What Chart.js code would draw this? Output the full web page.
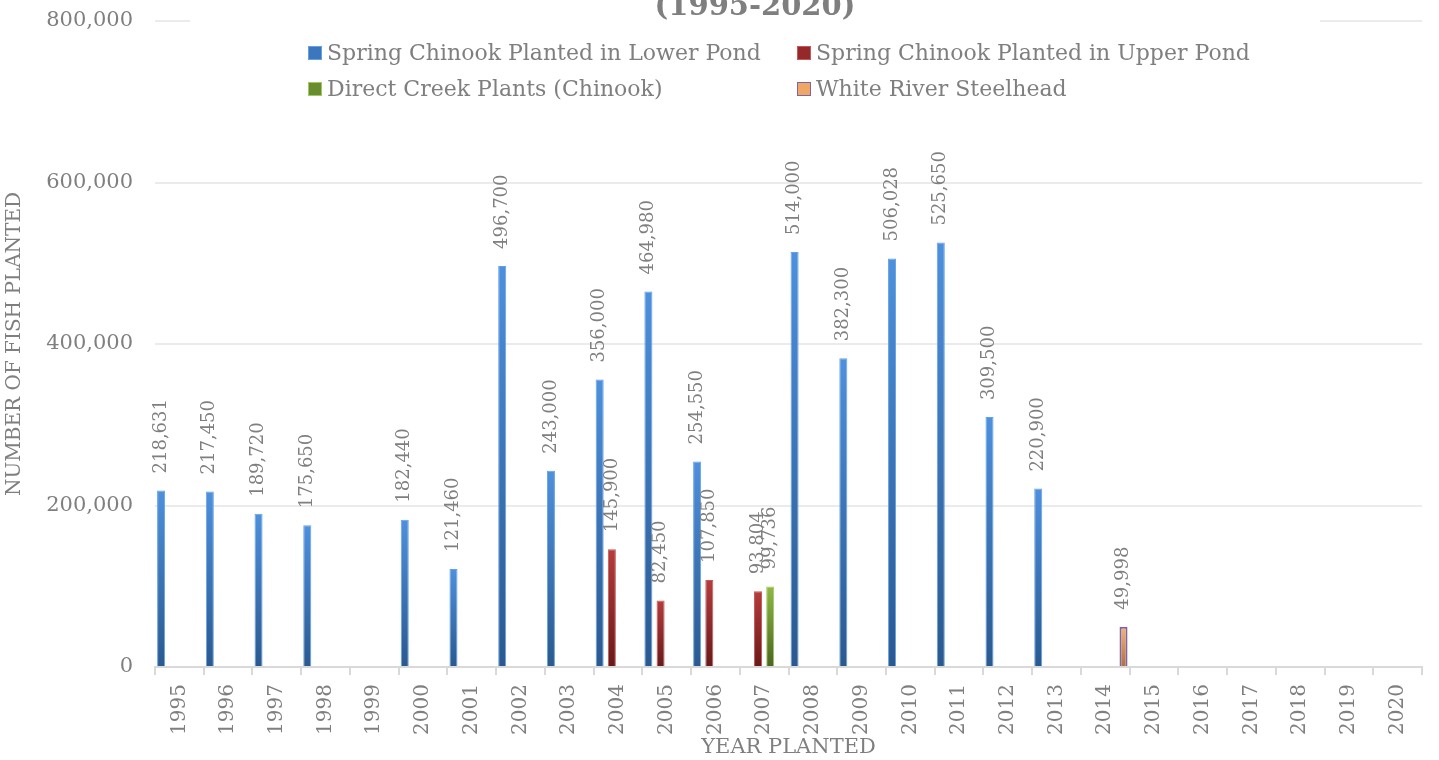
<!DOCTYPE html>
<html>
<head>
<meta charset="utf-8">
<script src="https://cdn.jsdelivr.net/npm/chart.js@4.4.1/dist/chart.umd.min.js"></script>
<style>
    html, body { margin: 0; padding: 0; background: #ffffff; }
    #wrap { width: 1439px; height: 760px; position: relative; }
</style>
</head>
<body>
<div id="wrap"><canvas id="fishChart" width="1439" height="760"></canvas></div>
<script>
// Chart data
const years = ['1995', '1996', '1997', '1998', '1999', '2000', '2001', '2002', '2003', '2004', '2005', '2006', '2007',
    '2008', '2009', '2010', '2011', '2012', '2013', '2014', '2015', '2016', '2017', '2018', '2019', '2020'];

const lowerPond = [218631, 217450, 189720, 175650, null, 182440, 121460, 496700, 243000, 356000, 464980, 254550, null,
    514000, 382300, 506028, 525650, 309500, 220900, null, null, null, null, null, null, null];

const upperPond = [null, null, null, null, null, null, null, null, null, 145900, 82450, 107850, 93804,
    null, null, null, null, null, null, null, null, null, null, null, null, null];

const creekPlants = [null, null, null, null, null, null, null, null, null, null, null, null, 99736,
    null, null, null, null, null, null, null, null, null, null, null, null, null];

const steelhead = [null, null, null, null, null, null, null, null, null, null, null, null, null,
    null, null, null, null, null, null, 49998, null, null, null, null, null, null];

const yTicks = [0, 200000, 400000, 600000, 800000];

const chartTitle = '(1995-2020)';
const serif = '"DejaVu Serif", "Liberation Serif", serif';
const textGray = '#7f7f7f';

// Per-bar vertical gradient: light at the top, dark at the base
function barGradient(top, bottom) {
    return function(context) {
        const chart = context.chart;
        const yScale = chart.scales && chart.scales.y;
        if (!yScale || context.raw == null) return top;
        const yTop = yScale.getPixelForValue(context.raw);
        const yBase = yScale.getPixelForValue(0);
        if (!isFinite(yTop) || !isFinite(yBase) || yTop === yBase) return top;
        const g = chart.ctx.createLinearGradient(0, yTop, 0, yBase);
        g.addColorStop(0, top);
        g.addColorStop(1, bottom);
        return g;
    };
}

const fmt = v => Number(v).toLocaleString('en-US');

// Rotated value labels above each bar
const valueLabels = {
    id: 'valueLabels',
    afterDatasetsDraw(chart) {
        const ctx = chart.ctx;
        ctx.save();
        ctx.font = '18px ' + serif;
        ctx.fillStyle = textGray;
        ctx.textAlign = 'left';
        ctx.textBaseline = 'middle';
        chart.data.datasets.forEach((ds, i) => {
            const meta = chart.getDatasetMeta(i);
            meta.data.forEach((bar, j) => {
                const v = ds.data[j];
                if (v == null) return;
                ctx.save();
                ctx.translate(bar.x, bar.y - 17);
                ctx.rotate(-Math.PI / 2);
                ctx.fillText(fmt(v), 0, 0);
                ctx.restore();
            });
        });
        ctx.restore();
    }
};

// Title (cut at the top edge) and two-row legend over a white box
const headerBlock = {
    id: 'headerBlock',
    afterDraw(chart) {
        const ctx = chart.ctx;
        ctx.save();
        ctx.fillStyle = '#ffffff';
        ctx.fillRect(190, 0, 1130, 104);

        ctx.fillStyle = textGray;
        ctx.font = 'bold 29px ' + serif;
        ctx.textAlign = 'center';
        ctx.textBaseline = 'alphabetic';
        ctx.fillText(chartTitle, 755, 15);

        const cols = [308, 797];
        const rows = [46, 82];
        ctx.font = '22px ' + serif;
        ctx.textAlign = 'left';
        ctx.textBaseline = 'middle';
        chart.data.datasets.forEach((ds, i) => {
            const x = cols[i % 2];
            const y = rows[Math.floor(i / 2)];
            ctx.fillStyle = ds.legendColor;
            ctx.fillRect(x, y, 14, 14);
            ctx.strokeStyle = ds.borderColor;
            ctx.lineWidth = 1;
            ctx.strokeRect(x + 0.5, y + 0.5, 13, 13);
            ctx.fillStyle = textGray;
            ctx.fillText(ds.label, x + 19, y + 8);
        });
        ctx.restore();
    }
};

document.addEventListener('DOMContentLoaded', function() {
    const ctx = document.getElementById('fishChart').getContext('2d');

    new Chart(ctx, {
        type: 'bar',
        data: {
            labels: years,
            datasets: [
                {
                    label: 'Spring Chinook Planted in Lower Pond',
                    data: lowerPond,
                    backgroundColor: barGradient('#4d90dd', '#2a598f'),
                    legendColor: '#3c76bd',
                    borderColor: '#64a0e4',
                    borderWidth: 1
                },
                {
                    label: 'Spring Chinook Planted in Upper Pond',
                    data: upperPond,
                    backgroundColor: barGradient('#b53c3c', '#661a1a'),
                    legendColor: '#952828',
                    borderColor: '#c85656',
                    borderWidth: 1
                },
                {
                    label: 'Direct Creek Plants (Chinook)',
                    data: creekPlants,
                    backgroundColor: barGradient('#8fb846', '#4a6620'),
                    legendColor: '#6a8c30',
                    borderColor: '#a2c862',
                    borderWidth: 1
                },
                {
                    label: 'White River Steelhead',
                    data: steelhead,
                    backgroundColor: barGradient('#f6b479', '#b0703c'),
                    legendColor: '#eea766',
                    borderColor: '#8064a2',
                    borderWidth: 2
                }
            ]
        },
        options: {
            responsive: false,
            animation: false,
            categoryPercentage: 1.0,
            barPercentage: 0.66,
            layout: {
                padding: { top: 21, right: 17, bottom: 0, left: 0 }
            },
            plugins: {
                legend: { display: false },
                title: { display: false },
                tooltip: { enabled: false }
            },
            scales: {
                x: {
                    afterFit: scale => { scale.height = 93; },
                    grid: {
                        offset: true,
                        drawOnChartArea: false,
                        drawTicks: true,
                        tickLength: 8,
                        color: '#d9d9d9',
                        lineWidth: 2
                    },
                    border: { display: true, color: '#d9d9d9', width: 2 },
                    ticks: {
                        minRotation: 90,
                        maxRotation: 90,
                        padding: 9,
                        autoSkip: false,
                        color: textGray,
                        font: { family: serif, size: 20 }
                    },
                    title: {
                        display: true,
                        text: 'YEAR PLANTED',
                        color: textGray,
                        padding: { top: 0, bottom: 0 },
                        font: { family: serif, size: 21 }
                    }
                },
                y: {
                    min: 0,
                    max: 800000,
                    afterFit: scale => {
                        scale.width = 155;
                        scale.paddingTop = 0;
                        scale.paddingBottom = 0;
                    },
                    afterBuildTicks: scale => {
                        scale.ticks = yTicks.map(v => ({ value: v }));
                    },
                    grid: {
                        drawTicks: false,
                        color: '#ebebeb',
                        lineWidth: 2
                    },
                    border: { display: false },
                    ticks: {
                        padding: 22,
                        color: textGray,
                        font: { family: serif, size: 21 },
                        callback: value => fmt(value)
                    },
                    title: {
                        display: true,
                        text: 'NUMBER OF FISH PLANTED',
                        color: textGray,
                        padding: { top: 3, bottom: 0 },
                        font: { family: serif, size: 20 }
                    }
                }
            }
        },
        plugins: [valueLabels, headerBlock]
    });
});
</script>
</body>
</html>
